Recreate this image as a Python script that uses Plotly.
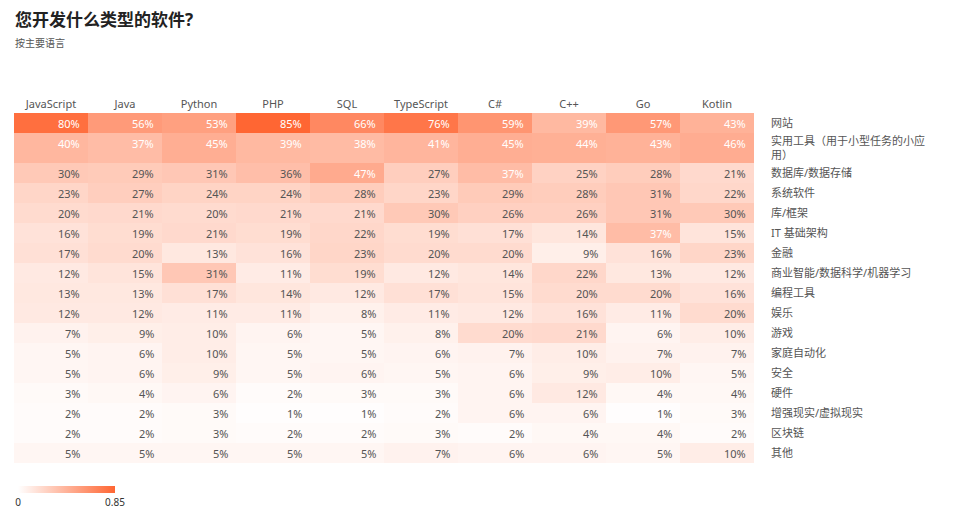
import plotly.graph_objects as go

languages = ["JavaScript", "Java", "Python", "PHP", "SQL", "TypeScript", "C#", "C++", "Go", "Kotlin"]
categories = [
    "网站",
    "实用工具（用于小型任务的小应<br>用）",
    "数据库/数据存储",
    "系统软件",
    "库/框架",
    "IT 基础架构",
    "金融",
    "商业智能/数据科学/机器学习",
    "编程工具",
    "娱乐",
    "游戏",
    "家庭自动化",
    "安全",
    "硬件",
    "增强现实/虚拟现实",
    "区块链",
    "其他",
]
values = [
    [80, 56, 53, 85, 66, 76, 59, 39, 57, 43],
    [40, 37, 45, 39, 38, 41, 45, 44, 43, 46],
    [30, 29, 31, 36, 47, 27, 37, 25, 28, 21],
    [23, 27, 24, 24, 28, 23, 29, 28, 31, 22],
    [20, 21, 20, 21, 21, 30, 26, 26, 31, 30],
    [16, 19, 21, 19, 22, 19, 17, 14, 37, 15],
    [17, 20, 13, 16, 23, 20, 20, 9, 16, 23],
    [12, 15, 31, 11, 19, 12, 14, 22, 13, 12],
    [13, 13, 17, 14, 12, 17, 15, 20, 20, 16],
    [12, 12, 11, 11, 8, 11, 12, 16, 11, 20],
    [7, 9, 10, 6, 5, 8, 20, 21, 6, 10],
    [5, 6, 10, 5, 5, 6, 7, 10, 7, 7],
    [5, 6, 9, 5, 6, 5, 6, 9, 10, 5],
    [3, 4, 6, 2, 3, 3, 6, 12, 4, 4],
    [2, 2, 3, 1, 1, 2, 6, 6, 1, 3],
    [2, 2, 3, 2, 2, 3, 2, 4, 4, 2],
    [5, 5, 5, 5, 5, 7, 6, 6, 5, 10],
]
# relative row heights (row 2 label wraps onto two lines)
row_heights = [1.5 if "<br>" in c else 1.0 for c in categories]

FONT = "Noto Sans, Noto Sans CJK SC, sans-serif"

# bin edges
x_edges = list(range(len(languages) + 1))
y_edges = [0.0]
for h in row_heights:
    y_edges.append(y_edges[-1] + h)
x_centers = [i + 0.5 for i in range(len(languages))]
y_centers = [(y_edges[i] + y_edges[i + 1]) / 2 for i in range(len(categories))]

z = [[v / 100 for v in row] for row in values]

fig = go.Figure()
fig.add_trace(go.Heatmap(
    x=x_edges, y=y_edges, z=z,
    zmin=0, zmax=0.85,
    colorscale=[[0, "#ffffff"], [1, "#ff6633"]],
    hoverinfo="skip",
    colorbar=dict(
        orientation="h",
        lenmode="pixels", len=97,
        thickness=7,
        x=4 / 740, xanchor="left",
        y=-23 / 350, yanchor="top",
        xpad=0, ypad=0,
        outlinewidth=0,
        tickvals=[0, 0.85], ticktext=["0", "0.85"],
        ticks="", ticklabelposition="outside",
        tickfont=dict(size=10, color="#333", family=FONT),
    ),
))

for i, row in enumerate(values):
    for j, v in enumerate(row):
        fig.add_annotation(
            x=x_edges[j + 1], y=y_edges[i] + 0.5,
            xref="x", yref="y",
            text=f"{v}%", showarrow=False,
            xanchor="right", yanchor="middle", xshift=-6,
            font=dict(size=11, color="#ffffff" if v >= 37 else "#555555", family=FONT),
        )

fig.add_annotation(
    x=0, y=1, xref="paper", yref="paper", text="<b>您开发什么类型的软件?</b>",
    showarrow=False, xanchor="left", yanchor="middle", yshift=94, xshift=-1,
    font=dict(size=17, color="#222222", family=FONT),
)
fig.add_annotation(
    x=0, y=1, xref="paper", yref="paper", text="按主要语言",
    showarrow=False, xanchor="left", yanchor="middle", yshift=70, xshift=-1,
    font=dict(size=10, color="#555555", family=FONT),
)

fig.update_layout(
    width=963, height=515,
    margin=dict(l=6, r=217, t=105, b=60),
    paper_bgcolor="white", plot_bgcolor="white",
    font=dict(family=FONT),
    xaxis=dict(
        side="top", range=[0, len(languages)],
        tickvals=x_centers, ticktext=languages,
        showgrid=False, zeroline=False, showline=False,
        ticks="", tickfont=dict(size=11, color="#555555", family=FONT),
        ticklabelstandoff=2,
    ),
    yaxis=dict(
        side="right", range=[y_edges[-1], 0],
        tickvals=y_centers, ticktext=categories,
        showgrid=False, zeroline=False, showline=False,
        ticks="", tickfont=dict(size=11, color="#555555", family=FONT),
        ticklabelstandoff=16,
    ),
)

fig.write_html("out.html")
